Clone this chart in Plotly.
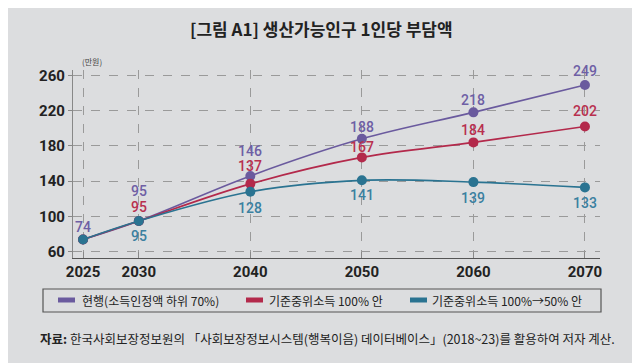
import plotly.graph_objects as go

years = [2025, 2030, 2040, 2050, 2060, 2070]
current = [74, 95, 146, 188, 218, 249]
median100 = [74, 95, 137, 167, 184, 202]
median100_50 = [74, 95, 128, 141, 139, 133]
series_names = ["현행(소득인정액 하위 70%)", "기준중위소득 100% 안", "기준중위소득 100%→50% 안"]
y_ticks = [60, 100, 140, 180, 220, 260]
x_ticks = [2025, 2030, 2040, 2050, 2060, 2070]

colors = ["#6a5a9e", "#b3294b", "#2a7391"]
label_colors = ["#6e5fa5", "#b8304f", "#3a80a0"]
# pixel shifts of value labels (style only)
label_shifts = [
    [-12, -30, -25, -12, -12, -14],
    [None, -14, -18, -10, -12, -15],
    [None, 15, 16, 15, 16, 16],
]

BG = "#dcdddf"
KR = "Noto Sans CJK KR"
NUM = "Roboto"
OFF = 8  # page offset of the plot div

W, H = 640, 363
L, R, T, B = 73 - OFF, 40 + OFF, 70 - OFF, 105 + OFF
pw, ph = W - L - R, H - T - B


def px_to_paper_x(px):
    return (px - OFF - L) / pw


def px_to_paper_y(py):
    return (H - B - (py - OFF)) / ph


fig = go.Figure()
all_series = [current, median100, median100_50]
for i, vals in enumerate(all_series):
    fig.add_trace(go.Scatter(
        x=years, y=vals, mode="lines+markers", name=series_names[i],
        line=dict(color=colors[i], width=1.6, shape="spline", smoothing=1.0),
        marker=dict(color=colors[i], size=10),
        showlegend=False, hoverinfo="skip",
    ))

for i, vals in enumerate(all_series):
    for j, (yr, v) in enumerate(zip(years, vals)):
        s = label_shifts[i][j]
        if s is None:
            continue
        fig.add_annotation(
            x=yr, y=v, text=str(v), showarrow=False, yshift=-s,
            font=dict(family=NUM, size=14, color=label_colors[i], weight=500),
            xanchor="center", yanchor="middle",
        )

fig.update_xaxes(
    range=[2024.1, 2071.35], tickvals=x_ticks, ticktext=[str(t) for t in x_ticks],
    showgrid=True, gridcolor="#9a9a9a", griddash="dash", gridwidth=1,
    showline=True, linecolor="#555555", linewidth=1.2, zeroline=False,
    ticks="inside", ticklen=6, tickcolor="#888888",
    tickfont=dict(family=NUM, size=15, color="#222222", weight="bold"),
)
fig.update_yaxes(
    range=[53, 266], tickvals=y_ticks,
    showgrid=True, gridcolor="#9a9a9a", griddash="dash", gridwidth=1,
    showline=True, linecolor="#888888", linewidth=1.2, zeroline=False,
    ticks="outside", ticklen=4, tickcolor="#888888",
    tickfont=dict(family=NUM, size=15, color="#222222", weight="bold"),
)

# Title
fig.add_annotation(
    xref="paper", yref="paper", x=px_to_paper_x(321), y=px_to_paper_y(28),
    xanchor="center", yanchor="middle",
    text="<b>[그림 A1] 생산가능인구 1인당 부담액</b>", showarrow=False,
    font=dict(family=KR, size=17, color="#222222"),
)
# unit
fig.add_annotation(
    xref="paper", yref="paper", x=px_to_paper_x(80), y=px_to_paper_y(62),
    xanchor="left", yanchor="middle", text="(만원)", showarrow=False,
    font=dict(family=KR, size=8, color="#444444"),
)

# legend box (drawn manually)
fig.add_shape(type="rect", xref="paper", yref="paper",
              x0=px_to_paper_x(43), x1=px_to_paper_x(601),
              y0=px_to_paper_y(312), y1=px_to_paper_y(289),
              line=dict(color="#555555", width=1.2), fillcolor="rgba(0,0,0,0)")
legend_sym_x = [58, 246, 410]
legend_txt_x = [80, 267, 430]
for i in range(3):
    fig.add_shape(type="rect", xref="paper", yref="paper",
                  x0=px_to_paper_x(legend_sym_x[i]), x1=px_to_paper_x(legend_sym_x[i] + 17),
                  y0=px_to_paper_y(302.5), y1=px_to_paper_y(297.5),
                  line=dict(width=0), fillcolor=colors[i])
    fig.add_annotation(xref="paper", yref="paper",
                       x=px_to_paper_x(legend_txt_x[i]), y=px_to_paper_y(300.5),
                       xanchor="left", yanchor="middle", showarrow=False,
                       text=series_names[i],
                       font=dict(family=KR, size=12, color="#222222"))

# source
fig.add_annotation(xref="paper", yref="paper",
                   x=px_to_paper_x(38), y=px_to_paper_y(338),
                   xanchor="left", yanchor="middle", showarrow=False,
                   text="<b>자료:</b> 한국사회보장정보원의 「사회보장정보시스템(행복이음) 데이터베이스」(2018~23)를 활용하여 저자 계산.",
                   font=dict(family=KR, size=12.5, color="#222222"))

fig.update_layout(
    width=W, height=H,
    margin=dict(l=L, r=R, t=T, b=B),
    paper_bgcolor=BG, plot_bgcolor=BG,
    showlegend=False,
)

fig.write_html("out.html")
